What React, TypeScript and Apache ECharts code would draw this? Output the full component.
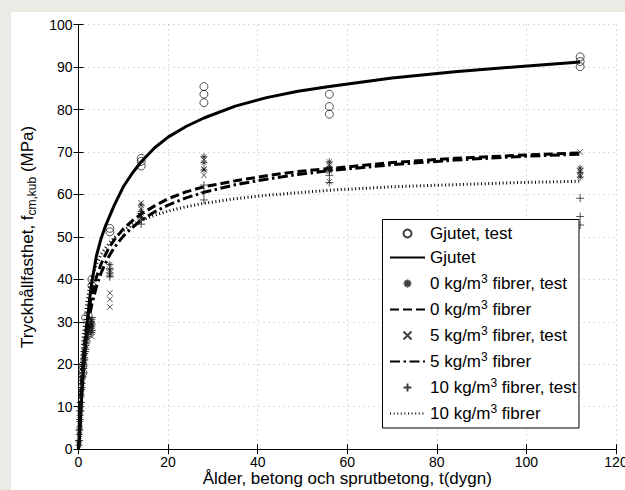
import React, { useEffect, useRef } from "react";
import * as echarts from "echarts";

const FONT = "'Liberation Sans', Arial, Helvetica, sans-serif";

// Fitted curves (days -> MPa)
const curveDays = [0, 0.25, 0.5, 0.75, 1, 1.5, 2, 2.5, 3, 4, 5, 6, 7, 8, 10, 12, 14, 17, 20, 24, 28, 35, 42, 49, 56, 70, 84, 98, 112];
const gjutetCurve = [0, 3, 8.5, 13, 17, 24, 30.5, 35.5, 39.5, 45.5, 49.5, 52.5, 55, 57.5, 61.8, 65, 67.7, 71, 73.5, 76, 78, 80.8, 82.8, 84.3, 85.4, 87.4, 88.9, 90.1, 91.2];
const fiber0Curve = [0, 5.4, 11.9, 16.9, 20.8, 26.5, 30.7, 33.9, 36.5, 40.5, 43.5, 45.8, 47.8, 49.3, 51.9, 53.8, 55.4, 57.3, 59, 60.6, 61.8, 63.2, 64.4, 65.4, 66.1, 67.5, 68.5, 69.2, 69.8];
const fiber5Curve = [0, 4.2, 10, 14.6, 18.4, 24, 28.2, 31.5, 34.2, 38.3, 41.4, 43.8, 45.8, 47.5, 50.2, 52.2, 53.9, 55.9, 57.5, 59.2, 60.5, 62.3, 63.6, 64.7, 65.6, 67, 68.1, 68.9, 69.5];
const fiber10Curve = [0, 9, 16.5, 22, 26, 31.5, 35.5, 38.3, 40.5, 43.5, 45.8, 47.4, 48.7, 49.8, 51.5, 52.8, 53.9, 55.1, 56.1, 57.1, 57.9, 59, 59.8, 60.4, 61, 61.8, 62.3, 62.8, 63.1];

// Test results
const gjutetTestDays = [1, 1, 1.6, 3, 3, 7, 7, 14, 14, 14, 28, 28, 28, 56, 56, 56, 112, 112, 112];
const gjutetTestValues = [18, 19.7, 31, 38.5, 40, 51.2, 52, 66.7, 67.8, 68.5, 81.6, 83.6, 85.4, 78.9, 80.7, 83.6, 90.1, 91.3, 92.4];

const fiber0TestDays = [0.1, 0.15, 0.2, 0.25, 0.3, 0.35, 0.4, 0.45, 0.5, 0.6, 0.7, 0.8, 0.9, 1, 1.1, 1.2, 1.3, 1.4, 1.5, 1.6, 1.8, 2, 2.2, 2.4, 2.6, 2.8, 3, 3, 3, 7, 7, 7, 14, 14, 14, 28, 28, 28, 56, 56, 56, 112, 112, 112];
const fiber0TestValues = [1, 2, 3.5, 5, 6.5, 8, 9, 10, 11, 12.5, 14, 15.5, 17, 18, 19.5, 20.5, 21.5, 22.5, 23.5, 24.5, 25.5, 26.5, 27.5, 28.5, 29, 30, 27.5, 29, 30.5, 41, 42.2, 43.5, 54.5, 56, 57.5, 65.8, 67.5, 68.9, 65.8, 66.5, 67.7, 64.1, 65.2, 66.2];

const fiber5TestDays = [0.1, 0.2, 0.3, 0.4, 0.5, 0.7, 0.9, 1.1, 1.3, 1.5, 1.8, 2.1, 2.4, 2.7, 3, 3, 3, 7, 7, 7, 14, 14, 14, 28, 28, 28, 56, 56, 56, 112, 112, 112];
const fiber5TestValues = [1.5, 4, 6, 8.5, 10.5, 13.5, 16, 18.5, 20.5, 22, 24, 26, 27.5, 29, 26.5, 28, 29.5, 33.5, 35.3, 36.8, 55, 56.5, 58, 64.5, 66, 68.2, 63, 65.5, 67, 64.5, 65.5, 70];

const fiber10TestDays = [0.1, 0.2, 0.3, 0.4, 0.5, 0.7, 0.9, 1.1, 1.3, 1.5, 1.8, 2.1, 2.4, 2.7, 3, 3, 3, 7, 7, 7, 14, 14, 14, 28, 28, 28, 56, 56, 56, 112, 112, 112];
const fiber10TestValues = [2, 4.5, 7, 9, 11, 14.5, 17, 19, 21, 23, 25, 27, 28.5, 30, 28, 29.5, 31, 40.6, 41.5, 42.5, 53, 54, 55.5, 58.7, 60.5, 62.2, 62.8, 64.5, 65.6, 52.8, 54.8, 59.1];

const seriesNames = [
  "Gjutet, test",
  "Gjutet",
  "0 kg/m3 fibrer, test",
  "0 kg/m3 fibrer",
  "5 kg/m3 fibrer, test",
  "5 kg/m3 fibrer",
  "10 kg/m3 fibrer, test",
  "10 kg/m3 fibrer",
];

const xLabel = "Ålder, betong och sprutbetong, t(dygn)";

const pair = (xs: number[], ys: number[]) => xs.map((x, i) => [x, ys[i]]);

const SYM_ASTER = "path://M5 0L5 10M0 5L10 5M1.6 1.6L8.4 8.4M8.4 1.6L1.6 8.4";
const SYM_X = "path://M0 0L10 10M10 0L0 10";
const SYM_PLUS = "path://M5 0L5 10M0 5L10 5";

function scatter(name: string, data: number[][], symbol: string, size: number) {
  return {
    name,
    type: "scatter",
    data,
    symbol,
    symbolSize: size,
    silent: true,
    itemStyle: { color: "rgba(0,0,0,0)", borderColor: "#111", borderWidth: 0.9 },
    z: 2,
  };
}

function curve(name: string, data: number[][], type: any, width: number) {
  return {
    name,
    type: "line",
    data,
    showSymbol: false,
    symbol: "none",
    smooth: false,
    silent: true,
    lineStyle: { color: "#000", width, type, cap: "butt", join: "round" },
    itemStyle: { color: "rgba(0,0,0,0)", borderWidth: 0, borderColor: "rgba(0,0,0,0)" },
    z: 2,
  };
}

function legendFormatter(name: string) {
  if (name.indexOf("kg/m3") >= 0) {
    const [before, after] = name.split("kg/m3");
    return `{a|${before}kg/m}{s|3}{a|${after}}`;
  }
  return `{a|${name}}`;
}

export default function App() {
  const ref = useRef<HTMLDivElement>(null);
  useEffect(() => {
    const chart = echarts.init(ref.current!, null, { renderer: "svg" });
    const axisCommon = {
      type: "value",
      axisLine: { show: true, lineStyle: { color: "#000", width: 1 } },
      axisTick: { show: true, inside: true, length: 5, lineStyle: { color: "#000", width: 1 } },
    };
    const option: any = {
      animation: false,
      backgroundColor: "transparent",
      textStyle: { fontFamily: FONT },
      grid: { left: 78.5, right: 9, top: 24.6, bottom: 40.8, containLabel: false, outerBoundsMode: "none" },
      graphic: [
        {
          type: "rect",
          z: 3,
          silent: true,
          shape: { x: 382.5, y: 219.5, width: 196.5, height: 208.5 },
          style: { fill: "#fff", stroke: "#000", lineWidth: 1 },
        },
      ],
      xAxis: [
        {
          ...axisCommon,
          min: 0,
          max: 120,
          interval: 20,
          position: "bottom",
          name: xLabel,
          nameLocation: "middle",
          nameGap: 21,
          nameMoveOverlap: false,
          nameTextStyle: { fontSize: 17, lineHeight: 17, color: "#000", fontFamily: FONT },
          axisLabel: { show: true, margin: 6, fontSize: 14, lineHeight: 14, color: "#000", fontFamily: FONT },
          splitLine: { show: true, lineStyle: { color: "#b8b8b8", width: 1, type: [1, 4] } },
        },
        {
          ...axisCommon,
          min: 0,
          max: 120,
          interval: 20,
          position: "top",
          axisLabel: { show: false },
          splitLine: { show: false },
        },
      ],
      yAxis: [
        {
          ...axisCommon,
          min: 0,
          max: 100,
          interval: 10,
          position: "left",
          name: "{a|Tryckhållfasthet, f}{b|cm,kub}{a| (MPa)}",
          nameLocation: "middle",
          nameGap: 38,
          nameTextStyle: {
            color: "#000",
            fontFamily: FONT,
            fontSize: 17,
            rich: {
              a: { fontSize: 17, fontFamily: FONT, color: "#000" },
              b: { fontSize: 12, fontFamily: FONT, color: "#000", padding: [9, 0, 0, 0] },
            },
          },
          axisLabel: { show: true, margin: 6, fontSize: 14, color: "#000", fontFamily: FONT },
          splitLine: { show: true, lineStyle: { color: "#b8b8b8", width: 1, type: [1, 4] } },
        },
        {
          ...axisCommon,
          min: 0,
          max: 100,
          interval: 10,
          position: "right",
          axisLabel: { show: false },
          splitLine: { show: false },
        },
      ],
      legend: {
        show: true,
        orient: "vertical",
        left: 382,
        top: 219,
        z: 4,
        padding: [6, 3, 6, 7],
        itemGap: 7,
        itemWidth: 35,
        itemHeight: 8,
        symbolKeepAspect: true,
        backgroundColor: "transparent",
        borderWidth: 0,
        selectedMode: false,
        data: seriesNames,
        formatter: legendFormatter,
        textStyle: {
          fontFamily: FONT,
          fontSize: 17,
          color: "#000",
          rich: {
            a: { fontFamily: FONT, fontSize: 17, color: "#000" },
            s: { fontFamily: FONT, fontSize: 12, color: "#000", padding: [0, 0, 9, 0] },
          },
        },
      },
      series: [
        scatter(seriesNames[0], pair(gjutetTestDays, gjutetTestValues), "circle", 8),
        curve(seriesNames[1], pair(curveDays, gjutetCurve), "solid", 3),
        scatter(seriesNames[2], pair(fiber0TestDays, fiber0TestValues), SYM_ASTER, 7),
        curve(seriesNames[3], pair(curveDays, fiber0Curve), [9, 4], 3),
        scatter(seriesNames[4], pair(fiber5TestDays, fiber5TestValues), SYM_X, 5.5),
        curve(seriesNames[5], pair(curveDays, fiber5Curve), [10, 3.5, 2.5, 3.5], 3),
        scatter(seriesNames[6], pair(fiber10TestDays, fiber10TestValues), SYM_PLUS, 8),
        curve(seriesNames[7], pair(curveDays, fiber10Curve), [1, 2.6], 3),
      ],
    };
    chart.setOption(option);
    return () => chart.dispose();
  }, []);
  return (
    <div style={{ position: "fixed", left: 0, top: 0, width: 625, height: 490, background: "#ebebe5", overflow: "hidden" }}>
      <div style={{ position: "absolute", left: 11, top: 12, width: 614, height: 478, background: "#fff" }} />
      <div ref={ref} style={{ position: "absolute", left: 0, top: 0, width: 625, height: 490 }} />
    </div>
  );
}
